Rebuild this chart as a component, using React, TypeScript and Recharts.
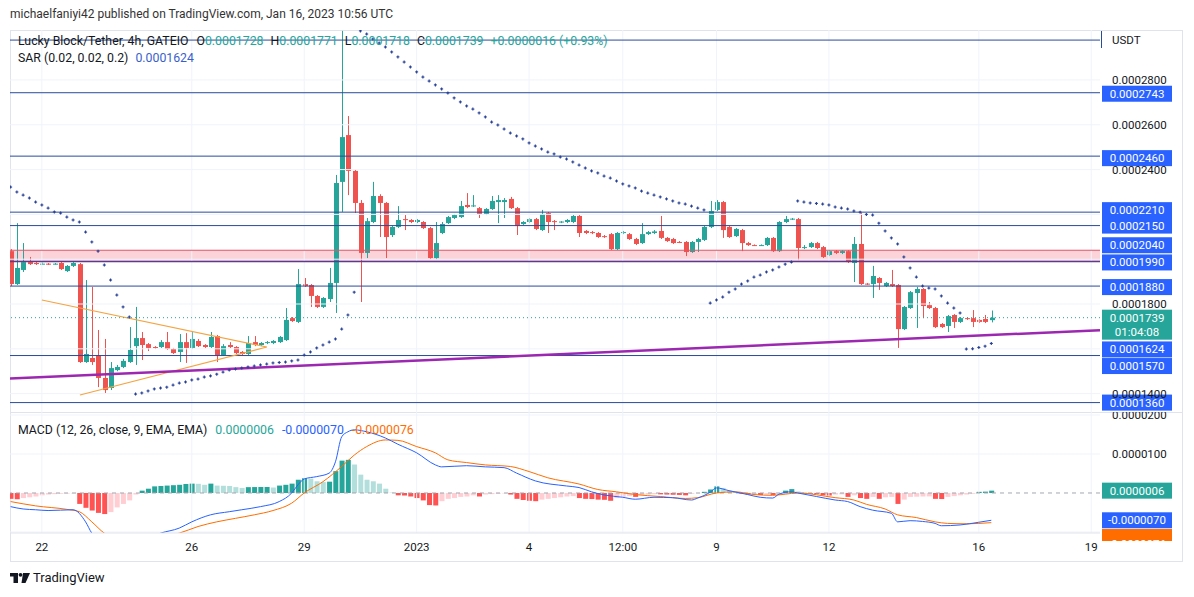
import React from 'react';
import {
  ComposedChart, Bar, Line, Scatter, XAxis, YAxis, ReferenceLine, ReferenceArea, Cell,
} from 'recharts';

// prices stored in units of 0.0000001 USDT
const UNIT = 1e-7;
// bar index 0 = Dec 22 2022 00:00 UTC, one step = one 4h candle
const FIRST_BAR = -5;
const X_DOMAIN: [number, number] = [-5.1, 169.4];
const DAY_TICKS = [0, 24, 42, 60, 78, 93, 108, 126, 150, 168];
const DAY_LABELS = ['22', '26', '29', '2023', '4', '12:00', '9', '12', '16', '19'];

const PRICE_TICKS = [2800, 2600, 2400, 1800, 1400];
const PRICE_GRID = [2800, 2600, 2400, 2200, 2000, 1800, 1600, 1400];
const MACD_TICKS = [200, 100];
const MACD_GRID = [200, 100, -100];

// [open, high, low, close]
const OHLC: [number, number, number, number][] = [
  [2036, 2045, 1880, 1889], [1889, 2161, 1885, 1961], [1952, 2072, 1943, 1987], [1987, 2010, 1974, 1978],
  [1983, 1987, 1974, 1978], [1978, 1985, 1974, 1980], [1980, 1983, 1974, 1978], [1978, 1983, 1976, 1980],
  [1983, 1987, 1952, 1956], [1947, 1974, 1943, 1970], [1970, 1987, 1965, 1983], [1978, 1983, 1537, 1541],
  [1541, 1907, 1537, 1577], [1559, 1876, 1528, 1541], [1572, 1684, 1429, 1470], [1470, 1644, 1403, 1416],
  [1425, 1541, 1416, 1514], [1505, 1528, 1500, 1519], [1519, 1555, 1514, 1546], [1541, 1697, 1537, 1595],
  [1612, 1787, 1528, 1648], [1648, 1675, 1550, 1617], [1621, 1626, 1590, 1604], [1608, 1612, 1599, 1604],
  [1608, 1639, 1604, 1630], [1630, 1675, 1595, 1599], [1599, 1604, 1577, 1581], [1586, 1666, 1541, 1630],
  [1630, 1670, 1537, 1604], [1604, 1675, 1599, 1644], [1635, 1644, 1608, 1612], [1617, 1621, 1604, 1608],
  [1608, 1675, 1604, 1653], [1657, 1662, 1541, 1572], [1572, 1621, 1568, 1612], [1617, 1630, 1604, 1608],
  [1608, 1612, 1577, 1581], [1586, 1590, 1572, 1577], [1577, 1657, 1572, 1626], [1630, 1657, 1612, 1617],
  [1617, 1630, 1612, 1626], [1626, 1635, 1621, 1630], [1626, 1639, 1621, 1635], [1630, 1657, 1626, 1653],
  [1639, 1782, 1635, 1729], [1737, 1742, 1720, 1724], [1720, 1956, 1715, 1889], [1889, 1916, 1876, 1880],
  [1885, 1889, 1787, 1836], [1836, 1840, 1782, 1787], [1787, 1831, 1782, 1827], [1822, 1961, 1809, 1894],
  [1894, 2376, 1760, 2340], [2345, 3019, 2211, 2545], [2554, 2639, 2286, 2394], [2394, 2400, 2206, 2251],
  [2251, 2264, 1809, 2028], [2028, 2184, 2005, 2170], [2166, 2345, 2161, 2282], [2282, 2290, 2099, 2251],
  [2251, 2255, 2005, 2099], [2108, 2148, 2099, 2144], [2144, 2237, 2139, 2175], [2179, 2197, 2130, 2175],
  [2175, 2179, 2161, 2166], [2166, 2179, 2161, 2175], [2166, 2170, 2135, 2139], [2139, 2144, 2000, 2005],
  [2005, 2166, 2000, 2072], [2117, 2166, 2112, 2157], [2161, 2193, 2157, 2188], [2184, 2202, 2179, 2197],
  [2188, 2260, 2184, 2237], [2242, 2295, 2228, 2233], [2237, 2286, 2233, 2240], [2228, 2233, 2184, 2202],
  [2202, 2228, 2197, 2224], [2224, 2282, 2220, 2260], [2255, 2286, 2161, 2264], [2255, 2273, 2184, 2264],
  [2269, 2278, 2224, 2228], [2228, 2233, 2108, 2148], [2157, 2170, 2153, 2166], [2166, 2184, 2161, 2179],
  [2179, 2184, 2130, 2135], [2130, 2220, 2126, 2202], [2206, 2211, 2117, 2166], [2170, 2175, 2130, 2166],
  [2166, 2170, 2161, 2168], [2166, 2179, 2161, 2175], [2166, 2197, 2161, 2193], [2193, 2197, 2099, 2117],
  [2126, 2130, 2112, 2117], [2121, 2126, 2112, 2117], [2117, 2121, 2095, 2099], [2103, 2108, 2095, 2099],
  [2112, 2117, 2041, 2045], [2045, 2121, 2041, 2117], [2117, 2126, 2112, 2121], [2112, 2117, 2086, 2090],
  [2090, 2095, 2063, 2068], [2072, 2161, 2068, 2112], [2112, 2126, 2108, 2121], [2117, 2130, 2112, 2124],
  [2126, 2193, 2090, 2095], [2095, 2099, 2077, 2081], [2090, 2095, 2068, 2072], [2077, 2081, 2072, 2075],
  [2077, 2081, 2014, 2032], [2032, 2081, 2028, 2077], [2077, 2095, 2032, 2090], [2086, 2148, 2081, 2144],
  [2144, 2260, 2139, 2215], [2220, 2264, 2215, 2255], [2255, 2260, 2095, 2130], [2144, 2148, 2095, 2099],
  [2103, 2139, 2099, 2135], [2130, 2135, 2036, 2072], [2072, 2077, 2059, 2063], [2063, 2066, 2059, 2061],
  [2061, 2066, 2059, 2063], [2063, 2099, 2059, 2095], [2095, 2099, 2032, 2036], [2036, 2170, 2032, 2166],
  [2166, 2193, 2161, 2179], [2179, 2184, 2175, 2181], [2179, 2184, 1996, 2050], [2050, 2063, 2045, 2054],
  [2054, 2077, 2050, 2072], [2072, 2077, 2045, 2050], [2054, 2059, 2005, 2010], [2019, 2041, 2014, 2036],
  [2036, 2041, 2023, 2028], [2028, 2041, 2023, 2036], [2036, 2041, 1983, 1987], [1983, 2099, 1898, 2068],
  [2068, 2206, 1885, 1889], [1891, 1894, 1885, 1889], [1889, 1970, 1827, 1925], [1916, 1920, 1863, 1894],
  [1880, 1898, 1876, 1894], [1889, 1952, 1876, 1880], [1885, 1889, 1604, 1688], [1688, 1791, 1684, 1787],
  [1782, 1858, 1778, 1853], [1849, 1876, 1693, 1867], [1867, 1871, 1737, 1791], [1795, 1809, 1778, 1782],
  [1782, 1787, 1693, 1697], [1711, 1715, 1693, 1697], [1702, 1751, 1675, 1746], [1751, 1755, 1693, 1720],
  [1720, 1742, 1715, 1737], [1737, 1742, 1729, 1733], [1737, 1773, 1697, 1720], [1729, 1733, 1715, 1720],
  [1733, 1751, 1715, 1720], [1728, 1771, 1718, 1739],
];

// Parabolic SAR, one dot per candle
const SAR = [
  2322, 2300, 2286, 2273, 2255, 2242, 2228, 2211, 2206, 2188, 2175, 2166, 2121, 2077, 2036, 1974, 1907, 1840, 1787, 1742,
  1398, 1403, 1412, 1421, 1425, 1429, 1438, 1447, 1452, 1461, 1465, 1474, 1479, 1487, 1496, 1505, 1510, 1514, 1519, 1523,
  1528, 1532, 1537, 1539, 1541, 1546, 1550, 1572, 1586, 1604, 1617, 1630, 1644, 1688, 1751, 1853,
  3019, 3005, 2983, 2965, 2947, 2925, 2903, 2880, 2858, 2836, 2813, 2795, 2778, 2760, 2742, 2720, 2702, 2684, 2670, 2653,
  2635, 2612, 2599, 2581, 2563, 2550, 2537, 2519, 2505, 2492, 2478, 2470, 2456, 2447, 2434, 2420, 2407, 2394, 2385, 2371,
  2362, 2349, 2336, 2327, 2318, 2304, 2295, 2286, 2278, 2269, 2260, 2251, 2246, 2237, 2228, 2220,
  1804, 1818, 1831, 1853, 1867, 1889, 1903, 1920, 1929, 1943, 1952, 1965, 1978, 1987,
  2260, 2255, 2251, 2249, 2246, 2242, 2233, 2228, 2224, 2215, 2210, 2200, 2197, 2161, 2126, 2095, 2068, 2010, 1961, 1920,
  1880, 1871, 1867, 1836, 1804, 1782, 1760,
  1599, 1600, 1606, 1612, 1624,
];

// MACD histogram, one bar per candle
const HIST = [
  -15, -16, -13, -11, -9, -6, -4, -3, -2, -1.5, -1,
  -28, -38, -45, -51, -54, -49, -37, -28, -19, -4,
  6, 11, 17, 18, 19, 20, 21, 23, 24, 23.5, 21, 24, 19, 18.5, 18, 15, 13, 15, 15.2, 15.4, 15.6, 14, 19, 21, 24,
  34, 38, 37, 30, 28, 29, 56, 83, 85, 73, 47, 34, 30, 24, 11, 1,
  -6, -6.5, -9, -13, -19, -31, -32, -21, -15, -13, -10, -9, -6, -9, -4, -3, -2, -1, -4, -15, -18, -20, -21, -17,
  -15, -13, -11, -9, -8, -13, -15, -15.5, -17, -17.5, -20, -13, -10, -8, -10, -6, -4, -3, -3.5, -4, -4.5, -5, -6,
  -2, -0.5,
  3, 9, 17, 13, 6, 3,
  -2, -4, -3.5, -5, -4, -5, -1,
  6, 10, 4, 1.5,
  -2, -3, -6, -6.5, -4, -3.5, -10, -6, -13, -15, -10, -15, -11, -10, -28, -17, -10, -9.5, -9, -8.8, -15, -15.5,
  -10, -8, -6, -4, -2,
  3, 3.5, 6,
];

const MACD_AT = [
  -5, -3, -1, 1, 5, 7, 8, 9, 11, 14, 17, 19, 22, 24, 27, 30, 32, 35, 38, 40, 41, 42, 44, 46, 47, 48, 49, 50, 52, 55,
  57, 60, 63, 64, 68, 71, 74, 76, 79, 84, 86, 88, 90, 93, 95, 98, 101, 104, 105, 107, 108, 110, 113, 115, 117, 118,
  120, 121, 124, 127, 129, 131, 133, 136, 137, 139, 141, 143, 144, 147, 150, 152,
];
const MACD_VAL = [
  -35, -41, -43, -45, -43, -74, -103, -118, -135, -138, -115, -103, -90, -74, -56, -48, -43, -35, -22, 0, 21, 36, 42,
  51, 80, 144, 157, 162, 157, 141, 125, 103, 72, 67, 70, 67, 65, 51, 31, 18, 14, 3, -5, -11, -16, -11, -12, -18, -13,
  2, 13, 6, -4, -11, -13, -3, 3, 0, -9, -18, -22, -35, -44, -52, -74, -71, -73, -78, -84, -82, -75, -70,
];
const SIGNAL_AT = [
  -5, -1, 4, 6, 8, 10, 14, 18, 22, 25, 28, 31, 34, 37, 40, 42, 45, 48, 50, 52, 55, 57, 60, 63, 65, 68, 71, 75, 78,
  81, 86, 89, 92, 95, 99, 103, 105, 108, 111, 114, 117, 119, 121, 127, 130, 132, 135, 137, 140, 143, 145, 148, 152,
];
const SIGNAL_VAL = [
  -22, -33, -42, -48, -74, -103, -125, -115, -103, -86, -74, -65, -56, -45, -26, 0, 29, 68, 97, 119, 136, 135, 119,
  103, 85, 78, 72, 68, 55, 39, 23, 9, 3, -4, -9, -14, -12, 0, 3, -4, -6, -3, 0, -12, -18, -29, -41, -56, -63, -74,
  -78, -79, -76,
];

// drawings
const LEVELS = [2978, 2743, 2460, 2210, 2150, 1880, 1570, 1360];
const ZONE = [1990, 2040];
const LAST_PRICE = 1739;
const LAST_SAR = 1624;
const LAST_HIST = 6;
const LAST_MACD = -70;
const LAST_SIGNAL = -76;
const SUPPORT = [[-5.1, 1467], [169.4, 1683]];
const WEDGE_TOP = [[0, 1818], [36, 1608]];
const WEDGE_BOTTOM = [[6.1, 1394], [36, 1608]];

const UP = '#26a69a';
const DOWN = '#ef5350';
const TEXT = '#131722';
const LEVEL = '#2a4b9b';
const BLUE = '#2962ff';
const GRID = '#f0f3fa';
const FONT = 'Roboto, "Noto Sans", sans-serif';

const fmt = (v: number) => (v * UNIT).toFixed(7);

const bars = OHLC.map(([o, h, l, c], k) => ({ t: FIRST_BAR + k, o, h, l, c, sar: SAR[k] }));
const macdRows = HIST.map((v, k) => {
  const t = FIRST_BAR + k;
  const mi = MACD_AT.indexOf(t);
  const si = SIGNAL_AT.indexOf(t);
  return { t, hist: v, macd: mi >= 0 ? MACD_VAL[mi] : null, signal: si >= 0 ? SIGNAL_VAL[si] : null };
});
const histColor = (k: number) => {
  const v = HIST[k];
  const prev = k > 0 ? HIST[k - 1] : v;
  if (v >= 0) return v > prev ? '#26a69a' : '#b2dfdb';
  return v > prev ? '#ffcdd2' : '#ff5252';
};

const Candle = (props: any) => {
  const { x, y, width, height, payload } = props;
  if (!payload || x == null) return null;
  const { o, h, l, c } = payload;
  const top = Math.min(y, y + height);
  const bot = Math.max(y, y + height);
  const k = h === l ? 0 : (bot - top) / (h - l);
  const yo = top + (h - o) * k;
  const yc = top + (h - c) * k;
  const color = c >= o ? UP : DOWN;
  const cx = Math.round(x + width / 2) + 0.5;
  const by = Math.min(yo, yc);
  const bh = Math.max(1, Math.abs(yo - yc));
  return (
    <g>
      <line x1={cx} x2={cx} y1={top} y2={bot} stroke={color} strokeWidth={1} />
      <rect x={cx - 2.5} y={by} width={5} height={bh} fill={color} />
    </g>
  );
};

const SarCross = (props: any) => {
  const { cx, cy } = props;
  if (cx == null || cy == null) return null;
  return (
    <g stroke="#263f96" strokeWidth={1.1}>
      <line x1={cx - 1.5} x2={cx + 1.5} y1={cy} y2={cy} />
      <line x1={cx} x2={cx} y1={cy - 1.5} y2={cy + 1.5} />
    </g>
  );
};

const PriceTag = (props: any) => {
  const { viewBox, text, fill, dy = 0, sub, rectH, textDy = 4 } = props;
  if (!viewBox) return null;
  const x = viewBox.x + viewBox.width + 2;
  const cy = viewBox.y + dy;
  const h = rectH ?? (sub ? 30 : 16);
  return (
    <g>
      <rect x={x} y={cy - 8} width={70} height={h} fill={fill} />
      <text x={x + 35} y={cy + textDy} textAnchor="middle" fill="#fff" fontSize={11.5} fontFamily={FONT}>{text}</text>
      {sub && (
        <text x={x + 35} y={cy + 18} textAnchor="middle" fill="#fff" fontSize={11.5} fontFamily={FONT}>{sub}</text>
      )}
    </g>
  );
};

const TAG_OFFSET: { [k: number]: number } = { 2743: 1, 2460: 2, 2210: -2, 2150: 0, 1880: 1, 1570: 10.5, 1360: 0 };
const LEGEND = { position: 'absolute' as const, left: 18, fontSize: 12.3, color: TEXT, whiteSpace: 'nowrap' as const, lineHeight: '14px' };

export default function App() {
  const last = OHLC[OHLC.length - 1];
  return (
    <div style={{ position: 'absolute', left: 0, top: 0, width: 1194, height: 597, background: '#fff', fontFamily: FONT, overflow: 'hidden' }}>
      <div style={{ position: 'absolute', left: 10, top: 7, fontSize: 12, color: '#333', whiteSpace: 'nowrap' }}>
        michaelfaniyi42 published on TradingView.com, Jan 16, 2023 10:56 UTC
      </div>
      <div style={{ position: 'absolute', left: 10, top: 30, width: 1171, height: 530, border: '1px solid #e0e3eb' }} />

      <div style={{ position: 'absolute', left: 10, top: 30 }}>
        <ComposedChart width={1173} height={382} data={bars} margin={{ top: 0, right: 0, bottom: 0, left: 0 }}>
          <XAxis type="number" dataKey="t" domain={X_DOMAIN} allowDataOverflow hide />
          <YAxis
            orientation="right" type="number" width={83} domain={[1318, 3023]} allowDataOverflow
            ticks={PRICE_TICKS} interval={0} tickFormatter={fmt} axisLine={false} tickLine={false}
            tickSize={0} tickMargin={12} tick={{ fontSize: 11.5, fill: TEXT, fontFamily: FONT }}
          />
          {PRICE_GRID.map((v) => <ReferenceLine key={'g' + v} y={v} stroke={GRID} />)}
          {DAY_TICKS.map((t) => <ReferenceLine key={'v' + t} x={t} stroke={GRID} />)}
          <ReferenceArea y1={ZONE[0]} y2={ZONE[1]} fill="#fbd3d8" fillOpacity={1} stroke="none" />
          <Bar dataKey={(d: any) => [d.l, d.h]} barSize={5} isAnimationActive={false} shape={(p: any) => <Candle {...p} />} />
          <Scatter dataKey="sar" isAnimationActive={false} shape={(p: any) => <SarCross {...p} />} />
          <ReferenceLine y={ZONE[1]} stroke="#e25563" label={<PriceTag text={fmt(ZONE[1])} fill={BLUE} dy={-5} />} />
          <ReferenceLine y={ZONE[0]} stroke="#5b3b92" strokeWidth={1.5} label={<PriceTag text={fmt(ZONE[0])} fill={BLUE} dy={1} />} />
          {LEVELS.map((v) => (
            <ReferenceLine
              key={'l' + v} y={v} stroke={LEVEL}
              label={TAG_OFFSET[v] !== undefined ? <PriceTag text={fmt(v)} fill={BLUE} dy={TAG_OFFSET[v]} /> : undefined}
            />
          ))}
          <ReferenceLine
            segment={[{ x: WEDGE_TOP[0][0], y: WEDGE_TOP[0][1] }, { x: WEDGE_TOP[1][0], y: WEDGE_TOP[1][1] }]}
            stroke="#f5a442" strokeWidth={1.2}
          />
          <ReferenceLine
            segment={[{ x: WEDGE_BOTTOM[0][0], y: WEDGE_BOTTOM[0][1] }, { x: WEDGE_BOTTOM[1][0], y: WEDGE_BOTTOM[1][1] }]}
            stroke="#f5a442" strokeWidth={1.2}
          />
          <ReferenceLine
            segment={[{ x: SUPPORT[0][0], y: SUPPORT[0][1] }, { x: SUPPORT[1][0], y: SUPPORT[1][1] }]}
            stroke="#9c27b0" strokeWidth={2.5}
          />
          <ReferenceLine
            y={LAST_PRICE} stroke={UP} strokeDasharray="1 3"
            label={<PriceTag text={fmt(LAST_PRICE)} sub="01:04:08" fill={UP} dy={0} />}
          />
          <ReferenceLine y={LAST_SAR} stroke="none" label={<PriceTag text={fmt(LAST_SAR)} fill={BLUE} dy={6} />} />
        </ComposedChart>
      </div>

      <div style={{ position: 'absolute', left: 10, top: 412, width: 1173, height: 1, background: '#e0e3eb' }} />

      <div style={{ position: 'absolute', left: 10, top: 412 }}>
        <ComposedChart width={1173} height={150} data={macdRows} margin={{ top: 0, right: 0, bottom: 0, left: 0 }}>
          <XAxis
            type="number" dataKey="t" domain={X_DOMAIN} allowDataOverflow ticks={DAY_TICKS} interval={0}
            tickFormatter={(v: number) => DAY_LABELS[DAY_TICKS.indexOf(v)]} height={29}
            axisLine={{ stroke: '#e0e3eb' }} tickLine={false} tickSize={0} tickMargin={10}
            tick={{ fontSize: 11.5, fill: TEXT, fontFamily: FONT }}
          />
          <YAxis
            orientation="right" type="number" width={83} domain={[-102.6, 207.7]} allowDataOverflow
            ticks={MACD_TICKS} interval={0} tickFormatter={fmt} axisLine={false} tickLine={false}
            tickSize={0} tickMargin={12} tick={{ fontSize: 11.5, fill: TEXT, fontFamily: FONT }}
          />
          {MACD_GRID.map((v) => <ReferenceLine key={'g' + v} y={v} stroke={GRID} />)}
          {DAY_TICKS.map((t) => <ReferenceLine key={'v' + t} x={t} stroke={GRID} />)}
          <ReferenceLine y={0} stroke="#a3a6af" strokeDasharray="4 4" />
          <Bar dataKey="hist" barSize={5} isAnimationActive={false}>
            {macdRows.map((r, k) => <Cell key={r.t} fill={histColor(k)} />)}
          </Bar>
          <Line dataKey="signal" type="monotone" stroke="#ff6d00" strokeWidth={1} dot={false} connectNulls isAnimationActive={false} />
          <Line dataKey="macd" type="monotone" stroke={BLUE} strokeWidth={1} dot={false} connectNulls isAnimationActive={false} />
          <ReferenceLine y={LAST_HIST} stroke="none" label={<PriceTag text={fmt(LAST_HIST)} fill={UP} dy={0} />} />
          <ReferenceLine y={LAST_MACD} stroke="none" label={<PriceTag text={'-' + fmt(-LAST_MACD)} fill={BLUE} dy={0} />} />
          <ReferenceLine
            y={LAST_SIGNAL} stroke="none"
            label={<PriceTag text={'-' + fmt(-LAST_SIGNAL)} fill="#ff6d00" dy={14.4} rectH={12} textDy={11} />}
          />
        </ComposedChart>
      </div>

      {/* legends */}
      <div style={{ ...LEGEND, top: 34 }}>
        Lucky Block/Tether, 4h, GATEIO
        <span style={{ marginLeft: 8 }}>O</span><span style={{ color: UP }}>{fmt(last[0])}</span>
        <span style={{ marginLeft: 7 }}>H</span><span style={{ color: UP }}>{fmt(last[1])}</span>
        <span style={{ marginLeft: 7 }}>L</span><span style={{ color: UP }}>{fmt(last[2])}</span>
        <span style={{ marginLeft: 7 }}>C</span><span style={{ color: UP }}>{fmt(last[3])}</span>
        <span style={{ marginLeft: 7, color: UP }}>+0.0000016 (+0.93%)</span>
      </div>
      <div style={{ ...LEGEND, top: 51 }}>
        SAR (0.02, 0.02, 0.2)<span style={{ marginLeft: 7, color: '#3a5fcd' }}>{fmt(LAST_SAR)}</span>
      </div>
      <div style={{ ...LEGEND, top: 423 }}>
        MACD (12, 26, close, 9, EMA, EMA)
        <span style={{ marginLeft: 8, color: UP }}>{fmt(LAST_HIST)}</span>
        <span style={{ marginLeft: 8, color: BLUE }}>{'-' + fmt(-LAST_MACD)}</span>
        <span style={{ marginLeft: 8, color: '#ff6d00' }}>{'-' + fmt(-LAST_SIGNAL)}</span>
      </div>
      <div style={{ position: 'absolute', left: 1112, top: 33, fontSize: 11.5, color: TEXT, lineHeight: '14px' }}>USDT</div>
      <div style={{ position: 'absolute', left: 1101, top: 31, width: 1, height: 17, background: LEVEL }} />

      {/* footer logo */}
      <svg style={{ position: 'absolute', left: 10, top: 572 }} width={22} height={12}>
        <rect x={0} y={1} width={8} height={3.5} fill={TEXT} />
        <rect x={3.5} y={1} width={4.5} height={10} fill={TEXT} />
        <circle cx={10.5} cy={2.8} r={1.9} fill={TEXT} />
        <polygon points="13,1 20,1 15.5,11 11.5,11" fill={TEXT} />
      </svg>
      <div style={{ position: 'absolute', left: 33, top: 570, fontSize: 13, color: TEXT, lineHeight: '16px' }}>TradingView</div>
    </div>
  );
}
